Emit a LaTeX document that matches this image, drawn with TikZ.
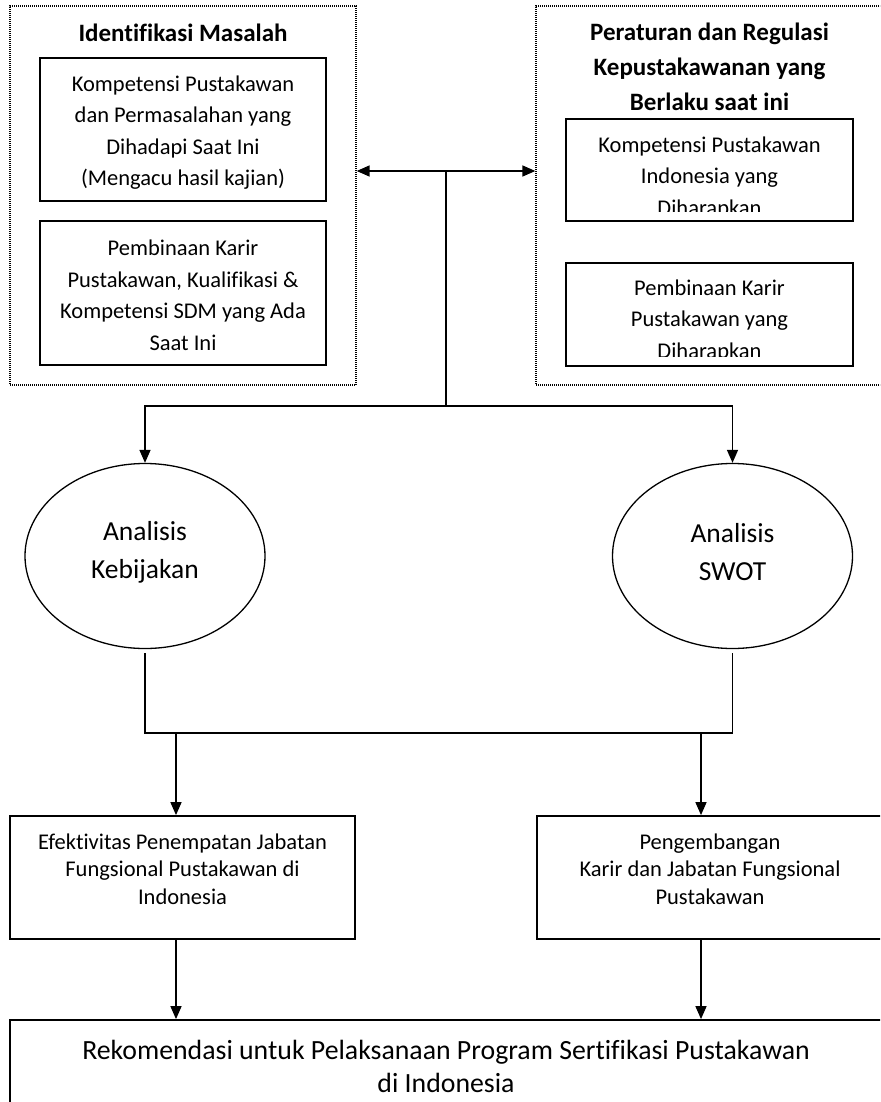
\documentclass[tikz,border=0pt]{standalone}
\usepackage{fontspec}
\setmainfont[Ligatures = {CommonOff, ContextualOff}, Contextuals = AlternateOff]{Carlito}
\usetikzlibrary{arrows.meta,
                shapes.geometric}

\begin{document}
\begin{tikzpicture}%
    [x = 1pt, y = -1pt,
     >={Triangle[length = 13pt, width = 11pt]},
     box/.style = {draw, line width = 1.8pt, inner sep = 0pt},
     dotbox/.style = {draw, dash pattern = on 1pt off 1pt, line width = 1.3pt, inner sep = 0pt},
     oval/.style = {draw, ellipse, line width = 1.3pt, inner sep = 0pt},
     txt/.style = {align = center, inner sep = 0pt, font = {\fontsize{22.5}{31.5}\selectfont}},
     title/.style = {align = center, inner sep = 0pt, font = {\fontsize{25}{35}\selectfont\bfseries}},
     big/.style = {align = center, inner sep = 0pt, font = {\fontsize{27.5}{38}\selectfont}},
     conn/.style = {line width = 1.5pt}]
    \useasboundingbox (0,0) rectangle (880,1102);
    \clip (0,0) rectangle (880,1102);

    % upper left block
    \node [dotbox, minimum width = 346pt, minimum height = 379pt] (idm) at (183,195.5) {};
    \node [title] (idm-t) at (183,33) {Identifikasi Masalah};
    \node [box, minimum width = 286pt, minimum height = 143pt] (kps) at (183,129.5) {};
    \node [txt] (kps-t) at (183,132.5)
        {Kompetensi Pustakawan\\dan Permasalahan yang\\Dihadapi Saat Ini\\(Mengacu hasil kajian)};
    \node [box, minimum width = 286pt, minimum height = 144pt] (pkk) at (183,293) {};
    \node [txt] (pkk-t) at (183,295.5)
        {Pembinaan Karir\\Pustakawan, Kualifikasi \&\\Kompetensi SDM yang Ada\\Saat Ini};

    % upper right block
    \node [dotbox, minimum width = 360pt, minimum height = 379pt] (reg) at (716,195.5) {};
    \node [title] (reg-t) at (709.5,67) {Peraturan dan Regulasi\\Kepustakawanan yang\\Berlaku saat ini};
    \node [box, minimum width = 287pt, minimum height = 102pt] (kph) at (709.5,170) {};
    \begin{scope}
        \clip (567,120) rectangle (852,211);
        \node [txt] (kph-t) at (709.5,178) {Kompetensi Pustakawan\\Indonesia yang\\Diharapkan};
    \end{scope}
    \node [box, minimum width = 287pt, minimum height = 103pt] (pkh) at (709.5,314.5) {};
    \begin{scope}
        \clip (567,264) rectangle (852,356);
        \node [txt] (pkh-t) at (709.5,320.5) {Pembinaan Karir\\Pustakawan yang\\Diharapkan};
    \end{scope}

    % analysis
    \node [oval, minimum width = 240pt, minimum height = 185pt] (kbj) at (145,556) {};
    \node [big] (kbj-t) at (145,552) {Analisis\\Kebijakan};
    \node [oval, minimum width = 240pt, minimum height = 185pt] (swot) at (732.5,556) {};
    \node [big] (swot-t) at (732.5,552) {Analisis\\SWOT};

    % outputs
    \node [box, minimum width = 345pt, minimum height = 123pt] (efk) at (182.5,877.5) {};
    \node [txt, font = {\fontsize{22.5}{27.5}\selectfont}] (efk-t) at (182.5,869)
        {Efektivitas Penempatan Jabatan\\Fungsional Pustakawan di\\Indonesia};
    \node [box, minimum width = 346pt, minimum height = 123pt] (pgb) at (710,877.5) {};
    \node [txt, font = {\fontsize{22.5}{27.5}\selectfont}] (pgb-t) at (710,869)
        {Pengembangan\\Karir dan Jabatan Fungsional\\Pustakawan};
    \node [box, minimum width = 872pt, minimum height = 94pt] (rek) at (446,1067) {};
    \node [big, font = {\fontsize{27.8}{33}\selectfont}] (rek-t) at (446,1066)
        {Rekomendasi untuk Pelaksanaan Program Sertifikasi Pustakawan\\di Indonesia};

    % connectors
    \coordinate (hub) at (446,171);
    \coordinate (split) at (446,406);
    \coordinate (join) at (446,733);
    \coordinate (m1) at (176,733);
    \coordinate (m2) at (701,733);

    \draw [<->, conn] (hub -| idm.east) -- (hub -| reg.west);
    \draw [conn] (hub) -- (split);
    \draw [->, conn] (split) -| (kbj.north);
    \draw [->, conn] (split) -| (swot.north);

    \draw [conn, shorten <= 4pt] (kbj.south) |- (join);
    \draw [conn, shorten <= 4pt] (swot.south) |- (join);

    \draw [->, conn] (m1) -- (m1 |- efk.north);
    \draw [->, conn] (m2) -- (m2 |- pgb.north);
    \draw [->, conn] (m1 |- efk.south) -- (m1 |- rek.north);
    \draw [->, conn] (m2 |- pgb.south) -- (m2 |- rek.north);
\end{tikzpicture}
\end{document}
